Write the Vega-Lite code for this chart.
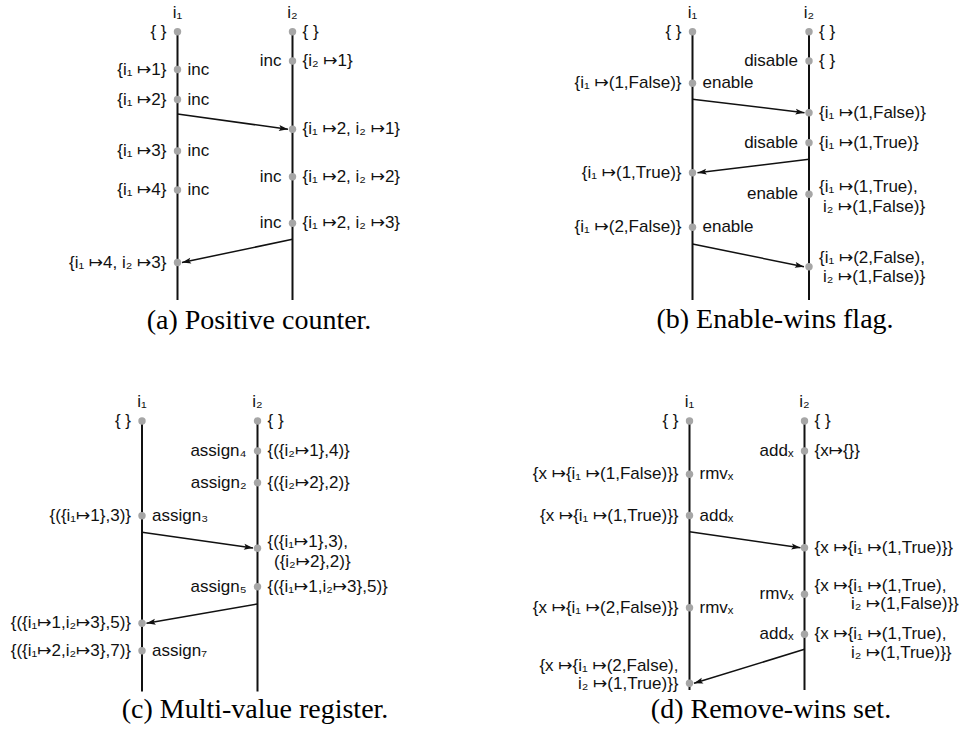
{
  "$schema": "https://vega.github.io/schema/vega-lite/v6.json",
  "width": 959,
  "height": 731,
  "autosize": {"type": "none"},
  "padding": 0,
  "background": "white",
  "config": {"view": {"stroke": null}},
  "datasets": {
    "lanes": [
      {"panel": "a", "proc": "i1", "x": 177.5, "y": 31.7, "y2": 300},
      {"panel": "a", "proc": "i2", "x": 292.5, "y": 31.7, "y2": 300},
      {"panel": "b", "proc": "i1", "x": 692.5, "y": 31.7, "y2": 300},
      {"panel": "b", "proc": "i2", "x": 809, "y": 31.7, "y2": 300},
      {"panel": "c", "proc": "i1", "x": 142, "y": 421, "y2": 691.5},
      {"panel": "c", "proc": "i2", "x": 257.5, "y": 421, "y2": 691.5},
      {"panel": "d", "proc": "i1", "x": 689.5, "y": 421, "y2": 690},
      {"panel": "d", "proc": "i2", "x": 804.5, "y": 421, "y2": 690}
    ],
    "msgs": [
      {"panel": "a", "x": 177.5, "y": 114, "x2": 288, "y2": 129.3},
      {"panel": "a", "x": 292.5, "y": 239.3, "x2": 182, "y2": 262.5},
      {"panel": "b", "x": 692.5, "y": 99.3, "x2": 804.5, "y2": 112.7},
      {"panel": "b", "x": 809, "y": 159.3, "x2": 697.5, "y2": 172.7},
      {"panel": "b", "x": 692.5, "y": 244, "x2": 804, "y2": 266.7},
      {"panel": "c", "x": 142, "y": 532.3, "x2": 253, "y2": 548},
      {"panel": "c", "x": 257.5, "y": 604, "x2": 146.5, "y2": 623.3},
      {"panel": "d", "x": 689.5, "y": 531.7, "x2": 800.5, "y2": 547.7},
      {"panel": "d", "x": 804.5, "y": 649.3, "x2": 694, "y2": 683.3}
    ],
    "dots": [
      {"panel": "a", "x": 177.5, "y": 31.7}, {"panel": "a", "x": 177.5, "y": 69.5}, {"panel": "a", "x": 177.5, "y": 99.5},
      {"panel": "a", "x": 177.5, "y": 151}, {"panel": "a", "x": 177.5, "y": 190}, {"panel": "a", "x": 177.5, "y": 262.5},
      {"panel": "a", "x": 292.5, "y": 31.7}, {"panel": "a", "x": 292.5, "y": 61}, {"panel": "a", "x": 292.5, "y": 129.3},
      {"panel": "a", "x": 292.5, "y": 176.7}, {"panel": "a", "x": 292.5, "y": 223.3},
      {"panel": "b", "x": 692.5, "y": 31.7}, {"panel": "b", "x": 692.5, "y": 83.3}, {"panel": "b", "x": 692.5, "y": 172.7},
      {"panel": "b", "x": 692.5, "y": 227.3},
      {"panel": "b", "x": 809, "y": 31.7}, {"panel": "b", "x": 809, "y": 61}, {"panel": "b", "x": 809, "y": 112.7},
      {"panel": "b", "x": 809, "y": 142.7}, {"panel": "b", "x": 809, "y": 194.3}, {"panel": "b", "x": 809, "y": 266.7},
      {"panel": "c", "x": 142, "y": 421}, {"panel": "c", "x": 142, "y": 515.7}, {"panel": "c", "x": 142, "y": 623.3},
      {"panel": "c", "x": 142, "y": 650.7},
      {"panel": "c", "x": 257.5, "y": 421}, {"panel": "c", "x": 257.5, "y": 451}, {"panel": "c", "x": 257.5, "y": 482.7},
      {"panel": "c", "x": 257.5, "y": 548.3}, {"panel": "c", "x": 257.5, "y": 586.7},
      {"panel": "d", "x": 689.5, "y": 421}, {"panel": "d", "x": 689.5, "y": 474.3}, {"panel": "d", "x": 689.5, "y": 515.5},
      {"panel": "d", "x": 689.5, "y": 607.7}, {"panel": "d", "x": 689.5, "y": 683.3},
      {"panel": "d", "x": 804.5, "y": 421}, {"panel": "d", "x": 804.5, "y": 451}, {"panel": "d", "x": 804.5, "y": 547.7},
      {"panel": "d", "x": 804.5, "y": 594.3}, {"panel": "d", "x": 804.5, "y": 634.3}
    ],
    "heads": [
      {"x": 177.5, "y": 13, "t": "i₁"}, {"x": 292.5, "y": 13, "t": "i₂"},
      {"x": 692.5, "y": 13, "t": "i₁"}, {"x": 809, "y": 13, "t": "i₂"},
      {"x": 142, "y": 401.7, "t": "i₁"}, {"x": 257.5, "y": 401.7, "t": "i₂"},
      {"x": 689.5, "y": 401.7, "t": "i₁"}, {"x": 804.5, "y": 401.7, "t": "i₂"}
    ],
    "labels": [
      {"x": 177.5, "y": 31.7, "side": "L", "t": "{ }"},
      {"x": 177.5, "y": 69.5, "side": "L", "t": "{i₁ ↦1}"},
      {"x": 177.5, "y": 69.5, "side": "R", "t": "inc"},
      {"x": 177.5, "y": 99.5, "side": "L", "t": "{i₁ ↦2}"},
      {"x": 177.5, "y": 99.5, "side": "R", "t": "inc"},
      {"x": 177.5, "y": 151, "side": "L", "t": "{i₁ ↦3}"},
      {"x": 177.5, "y": 151, "side": "R", "t": "inc"},
      {"x": 177.5, "y": 190, "side": "L", "t": "{i₁ ↦4}"},
      {"x": 177.5, "y": 190, "side": "R", "t": "inc"},
      {"x": 177.5, "y": 262.5, "side": "L", "t": "{i₁ ↦4, i₂ ↦3}"},
      {"x": 292.5, "y": 31.7, "side": "R", "t": "{ }"},
      {"x": 292.5, "y": 61, "side": "L", "t": "inc"},
      {"x": 292.5, "y": 61, "side": "R", "t": "{i₂ ↦1}"},
      {"x": 292.5, "y": 129.3, "side": "R", "t": "{i₁ ↦2, i₂ ↦1}"},
      {"x": 292.5, "y": 176.7, "side": "L", "t": "inc"},
      {"x": 292.5, "y": 176.7, "side": "R", "t": "{i₁ ↦2, i₂ ↦2}"},
      {"x": 292.5, "y": 223.3, "side": "L", "t": "inc"},
      {"x": 292.5, "y": 223.3, "side": "R", "t": "{i₁ ↦2, i₂ ↦3}"},

      {"x": 692.5, "y": 31.7, "side": "L", "t": "{ }"},
      {"x": 692.5, "y": 83.3, "side": "L", "t": "{i₁ ↦(1,False)}"},
      {"x": 692.5, "y": 83.3, "side": "R", "t": "enable"},
      {"x": 692.5, "y": 172.7, "side": "L", "t": "{i₁ ↦(1,True)}"},
      {"x": 692.5, "y": 227.3, "side": "L", "t": "{i₁ ↦(2,False)}"},
      {"x": 692.5, "y": 227.3, "side": "R", "t": "enable"},
      {"x": 809, "y": 31.7, "side": "R", "t": "{ }"},
      {"x": 809, "y": 61, "side": "L", "t": "disable"},
      {"x": 809, "y": 61, "side": "R", "t": "{ }"},
      {"x": 809, "y": 112.7, "side": "R", "t": "{i₁ ↦(1,False)}"},
      {"x": 809, "y": 142.7, "side": "L", "t": "disable"},
      {"x": 809, "y": 142.7, "side": "R", "t": "{i₁ ↦(1,True)}"},
      {"x": 809, "y": 194.3, "side": "L", "t": "enable"},
      {"x": 809, "y": 187.3, "side": "R", "t": "{i₁ ↦(1,True),"},
      {"x": 823, "y": 207.3, "side": "C", "t": "i₂ ↦(1,False)}"},
      {"x": 809, "y": 258.3, "side": "R", "t": "{i₁ ↦(2,False),"},
      {"x": 823, "y": 276.7, "side": "C", "t": "i₂ ↦(1,False)}"},

      {"x": 142, "y": 421, "side": "L", "t": "{ }"},
      {"x": 142, "y": 515.7, "side": "L", "t": "{({i₁↦1},3)}"},
      {"x": 142, "y": 515.7, "side": "R", "t": "assign₃"},
      {"x": 142, "y": 623.3, "side": "L", "t": "{({i₁↦1,i₂↦3},5)}"},
      {"x": 142, "y": 650.7, "side": "L", "t": "{({i₁↦2,i₂↦3},7)}"},
      {"x": 142, "y": 650.7, "side": "R", "t": "assign₇"},
      {"x": 257.5, "y": 421, "side": "R", "t": "{ }"},
      {"x": 257.5, "y": 451, "side": "L", "t": "assign₄"},
      {"x": 257.5, "y": 451, "side": "R", "t": "{({i₂↦1},4)}"},
      {"x": 257.5, "y": 482.7, "side": "L", "t": "assign₂"},
      {"x": 257.5, "y": 482.7, "side": "R", "t": "{({i₂↦2},2)}"},
      {"x": 257.5, "y": 541.7, "side": "R", "t": "{({i₁↦1},3),"},
      {"x": 274, "y": 561.7, "side": "C", "t": "({i₂↦2},2)}"},
      {"x": 257.5, "y": 586.7, "side": "L", "t": "assign₅"},
      {"x": 257.5, "y": 586.7, "side": "R", "t": "{({i₁↦1,i₂↦3},5)}"},

      {"x": 689.5, "y": 421, "side": "L", "t": "{ }"},
      {"x": 689.5, "y": 474.3, "side": "L", "t": "{x ↦{i₁ ↦(1,False)}}"},
      {"x": 689.5, "y": 474.3, "side": "R", "t": "rmvₓ"},
      {"x": 689.5, "y": 515.5, "side": "L", "t": "{x ↦{i₁ ↦(1,True)}}"},
      {"x": 689.5, "y": 515.5, "side": "R", "t": "addₓ"},
      {"x": 689.5, "y": 607.7, "side": "L", "t": "{x ↦{i₁ ↦(2,False)}}"},
      {"x": 689.5, "y": 607.7, "side": "R", "t": "rmvₓ"},
      {"x": 689.5, "y": 666, "side": "L", "t": "{x ↦{i₁ ↦(2,False),"},
      {"x": 689.5, "y": 684, "side": "L", "t": "i₂ ↦(1,True)}}"},
      {"x": 804.5, "y": 421, "side": "R", "t": "{ }"},
      {"x": 804.5, "y": 451, "side": "L", "t": "addₓ"},
      {"x": 804.5, "y": 451, "side": "R", "t": "{x↦{}}"},
      {"x": 804.5, "y": 547.7, "side": "R", "t": "{x ↦{i₁ ↦(1,True)}}"},
      {"x": 804.5, "y": 594.3, "side": "L", "t": "rmvₓ"},
      {"x": 804.5, "y": 586, "side": "R", "t": "{x ↦{i₁ ↦(1,True),"},
      {"x": 851, "y": 604.3, "side": "C", "t": "i₂ ↦(1,False)}}"},
      {"x": 804.5, "y": 634.3, "side": "L", "t": "addₓ"},
      {"x": 804.5, "y": 634.3, "side": "R", "t": "{x ↦{i₁ ↦(1,True),"},
      {"x": 851, "y": 653, "side": "C", "t": "i₂ ↦(1,True)}}"}
    ],
    "caps": [
      {"x": 259, "y": 321, "t": "(a) Positive counter."},
      {"x": 775, "y": 320, "t": "(b) Enable-wins flag."},
      {"x": 255, "y": 710, "t": "(c) Multi-value register."},
      {"x": 771, "y": 710, "t": "(d) Remove-wins set."}
    ]
  },
  "encoding": {
    "x": {"field": "x", "type": "quantitative", "scale": {"domain": [0, 959], "nice": false, "zero": false}, "axis": null},
    "y": {"field": "y", "type": "quantitative", "scale": {"domain": [0, 731], "nice": false, "zero": false, "reverse": true}, "axis": null}
  },
  "layer": [
    {
      "data": {"name": "lanes"},
      "mark": {"type": "rule", "color": "#111111", "strokeWidth": 2},
      "encoding": {"y2": {"field": "y2"}}
    },
    {
      "data": {"name": "msgs"},
      "mark": {"type": "rule", "color": "#111111", "strokeWidth": 1.5},
      "encoding": {"x2": {"field": "x2"}, "y2": {"field": "y2"}}
    },
    {
      "data": {"name": "msgs"},
      "transform": [{"calculate": "atan2(datum.y2 - datum.y, datum.x2 - datum.x) * 180 / PI", "as": "ang"}],
      "mark": {"type": "point", "filled": true, "opacity": 1, "color": "#111111", "size": 100, "shape": "M0,0L-1.8,-0.6L-1.45,0L-1.8,0.6Z"},
      "encoding": {
        "x": {"field": "x2", "type": "quantitative"},
        "y": {"field": "y2", "type": "quantitative"},
        "angle": {"field": "ang", "type": "quantitative", "scale": null}
      }
    },
    {
      "data": {"name": "dots"},
      "mark": {"type": "point", "filled": true, "opacity": 1, "color": "#a6a6a6", "size": 55, "shape": "circle"}
    },
    {
      "data": {"name": "heads"},
      "mark": {"type": "text", "font": "Liberation Sans, DejaVu Sans", "fontSize": 17, "color": "#111111", "baseline": "middle", "align": "center"},
      "encoding": {"text": {"field": "t"}}
    },
    {
      "data": {"name": "labels"},
      "transform": [{"filter": "datum.side === 'L'"}],
      "mark": {"type": "text", "font": "Liberation Sans, DejaVu Sans", "fontSize": 17, "color": "#111111", "baseline": "middle", "align": "right", "dx": -11},
      "encoding": {"text": {"field": "t"}}
    },
    {
      "data": {"name": "labels"},
      "transform": [{"filter": "datum.side === 'R'"}],
      "mark": {"type": "text", "font": "Liberation Sans, DejaVu Sans", "fontSize": 17, "color": "#111111", "baseline": "middle", "align": "left", "dx": 10},
      "encoding": {"text": {"field": "t"}}
    },
    {
      "data": {"name": "labels"},
      "transform": [{"filter": "datum.side === 'C'"}],
      "mark": {"type": "text", "font": "Liberation Sans, DejaVu Sans", "fontSize": 17, "color": "#111111", "baseline": "middle", "align": "left"},
      "encoding": {"text": {"field": "t"}}
    },
    {
      "data": {"name": "caps"},
      "mark": {"type": "text", "font": "Liberation Serif", "fontSize": 28, "color": "#000000", "baseline": "middle", "align": "center"},
      "encoding": {"text": {"field": "t"}}
    }
  ]
}
